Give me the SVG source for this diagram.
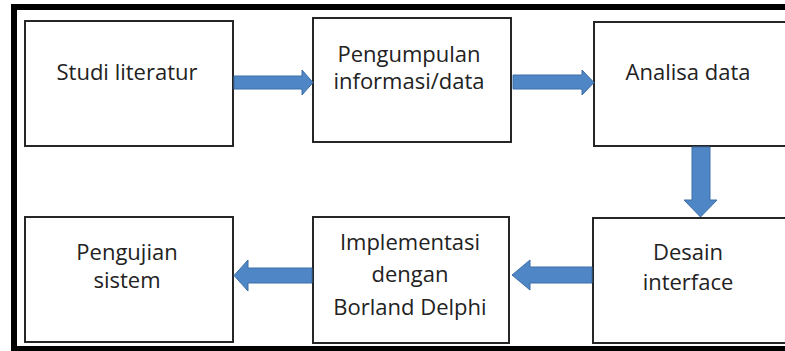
<svg xmlns="http://www.w3.org/2000/svg" width="785" height="351" viewBox="0 0 785 351">
  <style>
    .box { fill: #ffffff; stroke: #262626; stroke-width: 2; }
    .lbl { font-family: "Open Sans", "Noto Sans", sans-serif; font-size: 22px; fill: #222222; text-anchor: middle; }
    .arrow { fill: #4f86c6; stroke: #3d6ea8; stroke-width: 1; }
  </style>
  <rect width="785" height="351" fill="#ffffff"/>
  <!-- outer frame -->
  <rect x="14" y="7" width="800" height="342" fill="none" stroke="#000000" stroke-width="6"/>

  <g id="studi-literatur">
    <rect class="box" x="25" y="21" width="208" height="125"/>
    <text class="lbl" x="127" y="80">Studi literatur</text>
  </g>
  <g id="pengumpulan">
    <rect class="box" x="313" y="18" width="198" height="124"/>
    <text class="lbl" x="409" y="62">Pengumpulan</text>
    <text class="lbl" x="409" y="89">informasi/data</text>
  </g>
  <g id="analisa-data">
    <rect class="box" x="594" y="22" width="220" height="124"/>
    <text class="lbl" x="688" y="80">Analisa data</text>
  </g>
  <g id="desain-interface">
    <rect class="box" x="593" y="218" width="220" height="125"/>
    <text class="lbl" x="688" y="260">Desain</text>
    <text class="lbl" x="688" y="290">interface</text>
  </g>
  <g id="implementasi">
    <rect class="box" x="313" y="217" width="196" height="126"/>
    <text class="lbl" x="410" y="250">Implementasi</text>
    <text class="lbl" x="410" y="282">dengan</text>
    <text class="lbl" x="410" y="315">Borland Delphi</text>
  </g>
  <g id="pengujian-sistem">
    <rect class="box" x="25" y="217" width="208" height="125"/>
    <text class="lbl" x="127" y="260">Pengujian</text>
    <text class="lbl" x="127" y="288">sistem</text>
  </g>

  <g id="connectors">
    <polygon class="arrow" points="234,76 302,76 302,70 313,82.5 302,95 302,89 234,89"/>
    <polygon class="arrow" points="513,75 582,75 582,70 594,82.5 582,95 582,89 513,89"/>
    <polygon class="arrow" points="692,147 710,147 710,200 717,200 700.5,217 684,200 692,200"/>
    <polygon class="arrow" points="592,267 530,267 530,260 512,275 530,290 530,283 592,283"/>
    <polygon class="arrow" points="312,268 248,268 248,260 234,275.5 248,291 248,283 312,283"/>
  </g>
</svg>
